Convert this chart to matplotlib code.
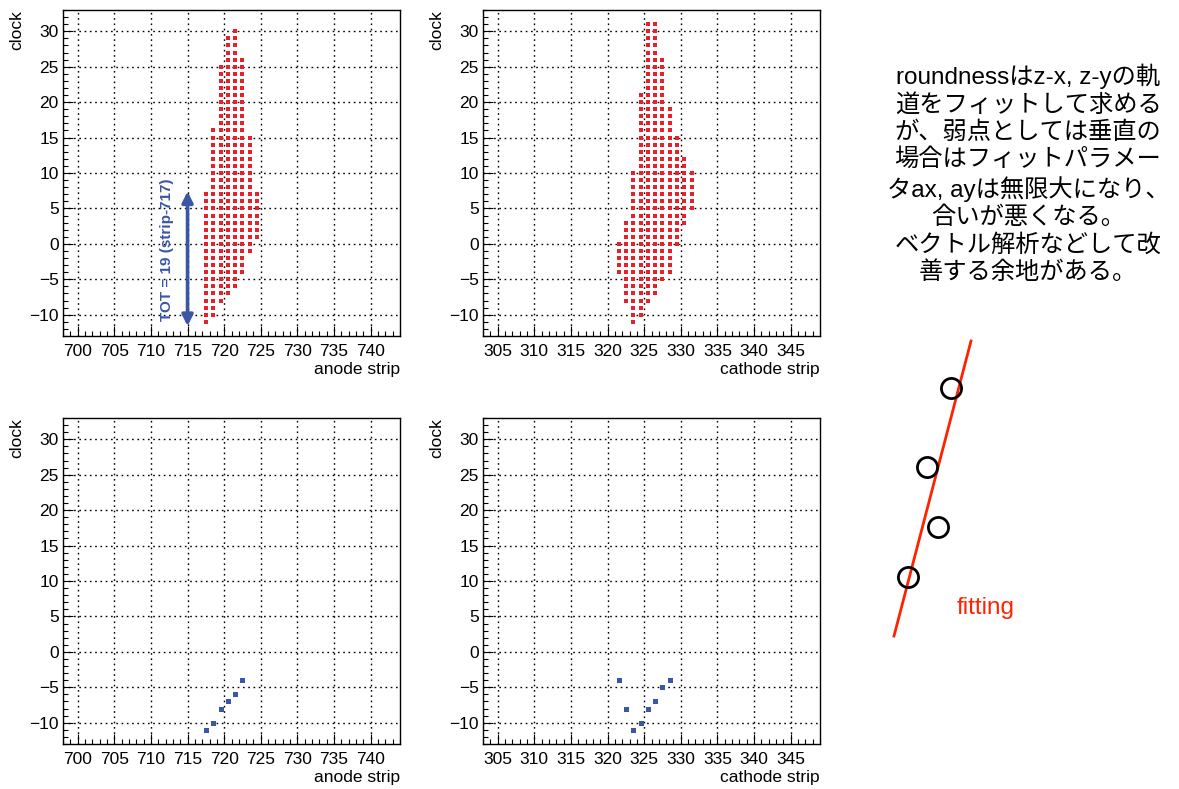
import matplotlib
matplotlib.use('Agg')
import matplotlib.pyplot as plt
from matplotlib.ticker import MultipleLocator
import numpy as np

# ---------------- data ----------------
anode_strips = [717, 718, 719, 720, 721, 722, 723, 724]
anode_clock_min = [-11, -10, -8, -7, -6, -4, -1, 1]
anode_clock_max = [7, 16, 25, 29, 30, 26, 15, 7]

cathode_strips = [321, 322, 323, 324, 325, 326, 327, 328, 329, 330, 331]
cathode_clock_min = [-4, -8, -11, -10, -8, -7, -5, -4, 0, 3, 5]
cathode_clock_max = [0, 3, 10, 21, 31, 31, 26, 19, 15, 12, 10]

anode_first_strips = [717, 718, 719, 720, 721, 722]
anode_first_clock = [-11, -10, -8, -7, -6, -4]

cathode_first_strips = [321, 322, 323, 324, 325, 326, 327, 328]
cathode_first_clock = [-4, -8, -11, -10, -8, -7, -5, -4]

anode_xlim = (698, 744)
cathode_xlim = (303, 349)
clock_ylim = (-13, 33)

tot_label = "TOT = 19 (strip-717)"
tot_arrow = (715.0, -11.6, 7.4)   # x, y_start, y_end

note_lines = [
    "roundnessはz-x, z-yの軌",
    "道をフィットして求める",
    "が、弱点としては垂直の",
    "場合はフィットパラメー",
    "タax, ayは無限大になり、",
    "合いが悪くなる。",
    "ベクトル解析などして改",
    "善する余地がある。",
]

# sketch (pixel-like units inside the sketch box)
sketch_circles_x = [91, 67, 78, 48]
sketch_circles_y = [262, 183, 123, 73]
sketch_line_x = [34, 111]
sketch_line_y = [14, 309]

RED = '#e8202a'
BLUE = '#3b56a6'

# ---------------- figure ----------------
W, H = 1179, 789
fig = plt.figure(figsize=(W / 100, H / 100), dpi=100)
plt.rcParams['font.family'] = ['Liberation Sans', 'Noto Sans CJK JP', 'DejaVu Sans']
plt.rcParams['axes.unicode_minus'] = True


def px_axes(x0, y0, x1, y1):
    return fig.add_axes([x0 / W, 1 - y1 / H, (x1 - x0) / W, (y1 - y0) / H])


def style(ax, xlim, xlabel):
    ax.set_xlim(*xlim)
    ax.set_ylim(*clock_ylim)
    ax.xaxis.set_major_locator(MultipleLocator(5))
    ax.xaxis.set_minor_locator(MultipleLocator(1))
    ax.yaxis.set_major_locator(MultipleLocator(5))
    ax.yaxis.set_minor_locator(MultipleLocator(1))
    ax.tick_params(which='both', direction='in', top=False, right=False,
                   labelsize=12.5, width=0.8, color='black')
    ax.tick_params(which='major', length=7)
    ax.tick_params(which='minor', length=3.6)
    ax.tick_params(axis='x', pad=6)
    ax.tick_params(axis='y', pad=3)
    ax.grid(True, which='major', color='black', linestyle=(0, (1.2, 2.6)),
            linewidth=1.0)
    ax.set_axisbelow(True)
    ax.set_xlabel(xlabel, loc='right', fontsize=12.5, labelpad=2)
    ax.set_ylabel('clock', loc='top', fontsize=12.5, labelpad=4)
    for s in ax.spines.values():
        s.set_linewidth(1.0)
        s.set_color('black')


def expand(strips, cmin, cmax):
    xs, ys = [], []
    for s, lo, hi in zip(strips, cmin, cmax):
        for c in range(lo, hi + 1):
            xs.append(s + 0.5)
            ys.append(c)
    return xs, ys


ax_tl = px_axes(63, 10, 400, 336)
ax_tr = px_axes(483, 10, 820, 336)
ax_bl = px_axes(63, 418, 400, 744)
ax_br = px_axes(483, 418, 820, 744)

style(ax_tl, anode_xlim, 'anode strip')
style(ax_tr, cathode_xlim, 'cathode strip')
style(ax_bl, anode_xlim, 'anode strip')
style(ax_br, cathode_xlim, 'cathode strip')

xs, ys = expand(anode_strips, anode_clock_min, anode_clock_max)
ax_tl.plot(xs, ys, 's', color=RED, markersize=3.2, markeredgewidth=0, zorder=3)
xs, ys = expand(cathode_strips, cathode_clock_min, cathode_clock_max)
ax_tr.plot(xs, ys, 's', color=RED, markersize=3.2, markeredgewidth=0, zorder=3)

ax_bl.plot(np.array(anode_first_strips) + 0.5, anode_first_clock, 's',
           color=BLUE, markersize=3.6, markeredgewidth=0, zorder=3)
ax_br.plot(np.array(cathode_first_strips) + 0.5, cathode_first_clock, 's',
           color=BLUE, markersize=3.6, markeredgewidth=0, zorder=3)

# TOT arrow + label
ax_tl.annotate('', xy=(tot_arrow[0], tot_arrow[2]), xytext=(tot_arrow[0], tot_arrow[1]),
               arrowprops=dict(arrowstyle='<|-|>', color=BLUE, lw=2.6,
                               mutation_scale=16, shrinkA=0, shrinkB=0), zorder=4)
ax_tl.text(712.2, -0.9, tot_label, rotation=90, ha='center', va='center',
           color=BLUE, fontsize=11, fontweight='bold', zorder=4)

# Japanese note
fig.text(1028 / W, 1 - 174 / H, "\n".join(note_lines), ha='center', va='center',
         multialignment='center', fontsize=17.5, linespacing=1.26, color='black')

# sketch of the fit
ax_s = px_axes(860, 330, 1060, 650)
ax_s.set_xlim(0, 200)
ax_s.set_ylim(0, 320)
ax_s.axis('off')
ax_s.plot(sketch_line_x, sketch_line_y, '-', color='#ff2200', lw=2.0)
ax_s.plot(sketch_circles_x, sketch_circles_y, 'o', markersize=14.5,
          markerfacecolor='none', markeredgecolor='black', markeredgewidth=2.0)
ax_s.text(97, 42, 'fitting', color='#ff2200', fontsize=17.5, ha='left', va='center')

fig.savefig('out.png', dpi=100)
